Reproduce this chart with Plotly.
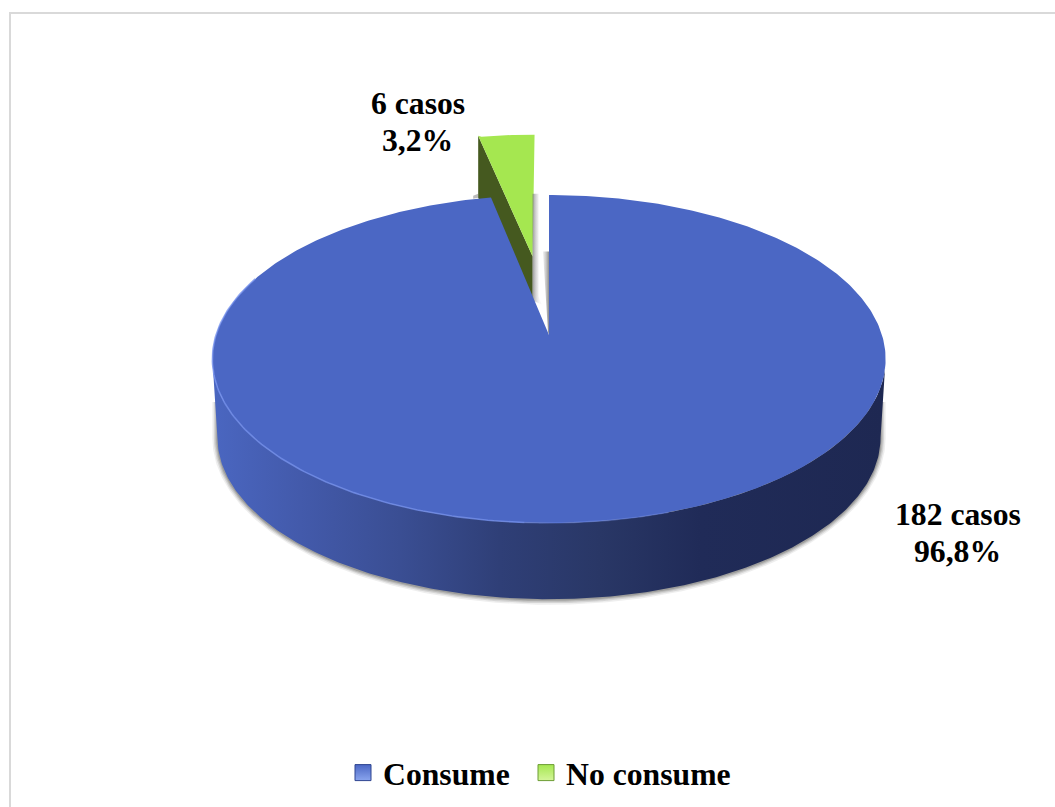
import numpy as np
import plotly.graph_objects as go

# Survey counts
categories = ["Consume", "No consume"]
cases = [182, 6]
top_colors = ["#4b67c4", "#a5e750"]
cut_color = "#45591f"
case_label = "{} casos"

# Projection of the unit disc onto the page
CX, CY = 549.0, 335.0
SCALE_X, SCALE_Y, PERSP = 333.0, 160.5, 0.1463
DEPTH, BASE_SCALE = 79.0, 0.985
EXPLODE = 0.53

total = sum(cases)
shares = [c / total for c in cases]
green_span = shares[1] * 2 * np.pi
# Angle at which the projected rim reaches its widest point
SIDE = np.arccos(-PERSP)


def project(u, v):
    w = 1 + PERSP * v
    return CX + SCALE_X * u / w, CY - SCALE_Y * v / w


def rim(a0, a1, n=240, du=0.0, dv=0.0):
    t = np.linspace(a0, a1, n)
    return project(np.sin(t) + du, np.cos(t) + dv)


def drop(x, y):
    # Same outline on the lower face of the disc
    return CX + BASE_SCALE * (x - CX), CY + DEPTH + BASE_SCALE * (y - CY)


def poly(x, y, color=None, gradient=None):
    return go.Scatter(
        x=list(x), y=list(y), mode="lines", line=dict(width=0),
        fill="toself", fillcolor=color, fillgradient=gradient,
        showlegend=False, hoverinfo="skip",
    )


fig = go.Figure()

# Front wall outline, shared by the shadow and the wall itself
wx, wy = rim(SIDE, 2 * np.pi - SIDE)
dx, dy = drop(wx, wy)

# Soft shadow under the disc
for grow, alpha in [(5.0, 0.10), (3.5, 0.16), (2.2, 0.22), (1.0, 0.30)]:
    k = 1 + grow / 330
    ax = CX + k * (dx - CX)
    ay = dy.min() + (dy - dy.min()) * (1 + grow / 160) + 0.5
    fig.add_trace(poly(np.r_[ax, ax[-1], ax[0]], np.r_[ay, 402, 402],
                       color=f"rgba(90,90,85,{alpha})"))

# Exploded slice: small shadow, cut face, then its top
mid = -green_span / 2
du, dv = EXPLODE * np.sin(mid), EXPLODE * np.cos(mid)
gx, gy = rim(-green_span, 0, 40, du, dv)
tipx, tipy = project(du, dv)
edge_x, edge_y = gx[0] - 2, gy[0] - 1
fig.add_trace(poly([edge_x - 5, edge_x, edge_x, edge_x - 5], [edge_y + 60, edge_y + 58, edge_y + 62, edge_y + 63],
                   color="rgba(170,170,170,0.8)"))
fig.add_trace(poly([edge_x, tipx, tipx, edge_x], [edge_y, tipy, tipy + DEPTH * 0.62, edge_y + 62], color=cut_color))
fig.add_trace(poly(np.r_[tipx, edge_x, gx[1:]], np.r_[tipy, edge_y, gy[1:]], color=top_colors[1]))

# Shadows cast into the notch of the disc
notch_l = go.scatter.Fillgradient(
    type="horizontal", start=tipx, stop=tipx + 7,
    colorscale=[[0, "rgba(120,120,120,0.75)"], [1, "rgba(200,200,200,0.12)"]],
)
fig.add_trace(poly([tipx, tipx + 6, tipx + 6, tipx + 9, tipx], [gy[-1] + 59, gy[-1] + 59, tipy + 40, tipy + 48, tipy + 44],
                   gradient=notch_l))
notch_r = go.scatter.Fillgradient(
    type="horizontal", start=CX - 7, stop=CX,
    colorscale=[[0, "rgba(200,200,200,0.15)"], [1, "rgba(110,110,110,0.8)"]],
)
fig.add_trace(poly([CX - 6, CX, CX, CX - 1], [tipy - 5, tipy - 5, CY, CY - 3], gradient=notch_r))

# Wall of the main slice with its left-to-right shading
wall_x = [215, 300, 400, 500, 600, 700, 885]
wall_c = ["#4a66c0", "#435aab", "#3a4e93", "#2f3f77", "#293766", "#202b58", "#1e2852"]
stops = [[(x - wall_x[0]) / (wall_x[-1] - wall_x[0]), c] for x, c in zip(wall_x, wall_c)]
fig.add_trace(poly(
    np.r_[wx, dx[::-1]], np.r_[wy, dy[::-1]],
    gradient=go.scatter.Fillgradient(type="horizontal", start=wall_x[0], stop=wall_x[-1], colorscale=stops),
))

# Top of the main slice
sx, sy = rim(0, 2 * np.pi - green_span, 480)
fig.add_trace(poly(np.r_[CX, sx], np.r_[CY, sy], color=top_colors[0]))

# Bright rim along the front-left edge
for a0, a1, alpha, width in [(1.02, 1.62, 0.75, 1.6), (0.90, 1.02, 0.4, 1.4)]:
    hx, hy = rim(np.pi * a0, np.pi * a1, 120)
    fig.add_trace(go.Scatter(x=hx, y=hy, mode="lines", showlegend=False, hoverinfo="skip",
                             line=dict(color=f"rgba(118,146,238,{alpha})", width=width)))

# Legend entries, each placed on its own so the spacing stays tight
legend_lines = ["#2f4590", "#6d9c34"]
legend_shades = ["#8aa5ee", "#d4f59a"]
legend_ids = ["legend", "legend2"]
for name, color, edge, shade, lid in zip(categories, top_colors, legend_lines, legend_shades, legend_ids):
    fig.add_trace(go.Scatter(
        x=[None], y=[None], mode="markers", name=name, legend=lid, showlegend=True,
        marker=dict(symbol="square", size=16, color=color, line=dict(color=edge, width=1),
                    gradient=dict(type="vertical", color=shade)),
    ))

# Value labels, one annotation per line
label_pos = [((958, 514), (957, 551)), ((418, 103), (417, 140))]
for n, share, (p1, p2) in zip(cases, shares, label_pos):
    pct = f"{share * 100:.1f}%".replace(".", ",")
    for text, (x, y) in ((case_label.format(n), p1), (pct, p2)):
        fig.add_annotation(x=x, y=y, text=text, showarrow=False, xanchor="center", yanchor="middle",
                           font=dict(family="Liberation Serif", size=31.7, color="#000000", weight=700))

legend_font = dict(family="Liberation Serif", size=31.7, color="#000000", weight=700)
legend_common = dict(orientation="h", y=1 - 773 / 807, xanchor="left", yanchor="middle",
                     itemwidth=30, bgcolor="rgba(0,0,0,0)", borderwidth=0, font=legend_font)

fig.update_layout(
    width=1055, height=807, margin=dict(l=0, r=0, t=0, b=0),
    paper_bgcolor="white", plot_bgcolor="white",
    xaxis=dict(range=[0, 1055], visible=False, fixedrange=True),
    yaxis=dict(range=[807, 0], visible=False, fixedrange=True),
    legend=dict(x=343 / 1055, **legend_common),
    legend2=dict(x=526 / 1055, **legend_common),
    shapes=[dict(type="rect", xref="x", yref="y", x0=10, y0=13, x1=1080, y1=830,
                 line=dict(color="#d9d9d9", width=2), layer="below")],
)

fig.write_html("out.html")
